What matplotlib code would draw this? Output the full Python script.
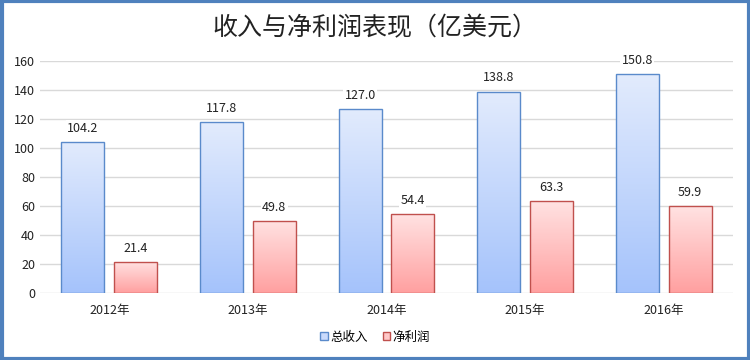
import numpy as np
import matplotlib
matplotlib.use('AGG')
import matplotlib.pyplot as plt
from matplotlib.patches import Rectangle, Patch
from matplotlib.colors import LinearSegmentedColormap

plt.rcParams['font.family'] = ['Noto Sans CJK SC', 'DejaVu Sans']

years = ['2012年', '2013年', '2014年', '2015年', '2016年']
revenue = [104.2, 117.8, 127.0, 138.8, 150.8]
profit = [21.4, 49.8, 54.4, 63.3, 59.9]
series_names = ['总收入', '净利润']

fig = plt.figure(figsize=(7.5, 3.6), dpi=100)
ax = fig.add_axes([40 / 750, 1 - 293 / 360, 693 / 750, 232 / 360])

x = np.arange(len(years))
width = 0.31
offset = 0.19

blue_cmap = LinearSegmentedColormap.from_list('b', ['#a5c3fb', '#e2ebfd'])
red_cmap = LinearSegmentedColormap.from_list('r', ['#ffa0a0', '#ffe2e2'])
grad = np.linspace(0, 1, 100).reshape(-1, 1)


def gradient_bars(xs, vals, cmap, edge):
    for xi, v in zip(xs, vals):
        left = xi - width / 2
        im = ax.imshow(grad, cmap=cmap, origin='lower', aspect='auto',
                       extent=[left, left + width, 0, v], zorder=2)
        rect = Rectangle((left, 0), width, v, facecolor='none',
                         edgecolor=edge, linewidth=1.0, zorder=3)
        ax.add_patch(rect)
        im.set_clip_path(rect)
        ax.text(xi, v + 5, f'{v:.1f}', ha='center', va='bottom',
                fontsize=9, color='#222222', zorder=4,
                bbox=dict(facecolor='white', edgecolor='none', pad=1))


gradient_bars(x - offset, revenue, blue_cmap, '#5a8acb')
gradient_bars(x + offset, profit, red_cmap, '#c0504d')

ax.set_xlim(-0.5, len(years) - 0.5)
ax.set_ylim(0, 160)
ax.set_yticks(range(0, 161, 20))
ax.set_xticks(x)
ax.set_xticklabels(years)
ax.tick_params(length=0, labelsize=9, colors='#222222')
ax.tick_params(axis='x', pad=8)
ax.grid(axis='y', color='#d9d9d9', linewidth=1, zorder=0)
ax.set_axisbelow(True)
for s in ax.spines.values():
    s.set_visible(False)

fig.text(0.5, 1 - 28 / 360, '收入与净利润表现（亿美元）', ha='center', va='center',
         fontsize=18, color='#222222', fontweight='light')

handles = [Patch(facecolor='#c9dafc', edgecolor='#5a8acb'),
           Patch(facecolor='#ffc8c8', edgecolor='#c0504d')]
fig.legend(handles, series_names, loc='center', bbox_to_anchor=(0.5, 1 - 337 / 360),
           ncol=2, frameon=False, fontsize=9, handlelength=0.6, handleheight=0.6,
           handletextpad=0.2, columnspacing=1.2)

border = Rectangle((0.002, 0.003), 0.996, 0.994, transform=fig.transFigure,
                   facecolor='none', edgecolor='#4f81bd', linewidth=3)
fig.patches.append(border)

fig.savefig('out.png', dpi=100)
